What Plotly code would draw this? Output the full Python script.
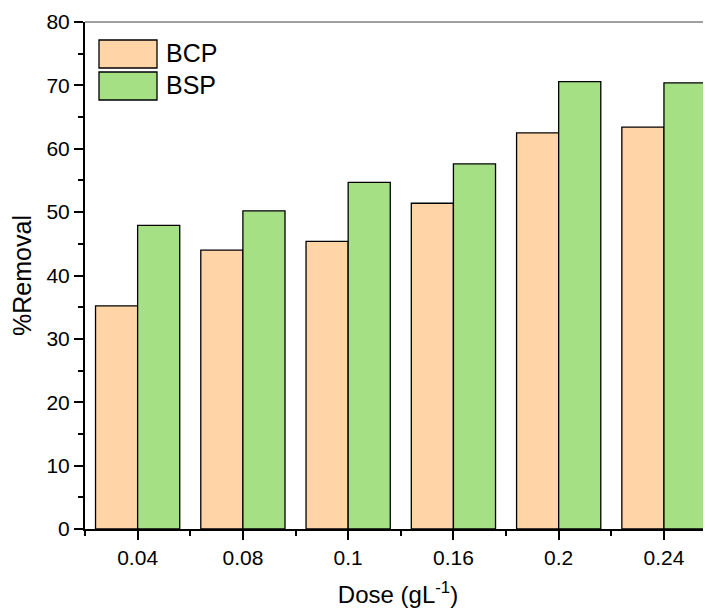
import plotly.graph_objects as go

doses = ["0.04", "0.08", "0.1", "0.16", "0.2", "0.24"]
bcp = [35.2, 44.0, 45.4, 51.4, 62.5, 63.4]
bsp = [47.9, 50.2, 54.7, 57.6, 70.6, 70.4]
series_names = ["BCP", "BSP"]
colors = ["#FFD5A8", "#A6E085"]
y_ticks = [0, 10, 20, 30, 40, 50, 60, 70, 80]

FONT = "Liberation Sans, Arial, sans-serif"
OFF = 8  # page body margin
W, H = 711 - OFF, 612 - OFF
L, T, R = 85 - OFF, 22 - OFF, 0
PH = 507
B = H - T - PH
PW = W - L - R

xs = list(range(len(doses)))

fig = go.Figure()
for name, vals, col in zip(series_names, [bcp, bsp], colors):
    fig.add_trace(go.Bar(
        x=xs, y=vals, name=name,
        marker=dict(color=col, line=dict(color="#000000", width=1.3)),
        showlegend=False,
    ))

def px(xp):
    return (xp - OFF - L) / PW

def py(yp):
    return (T + PH - (yp - OFF)) / PH

shapes = [
    dict(type="line", xref="paper", yref="paper", x0=0, x1=1, y0=1, y1=1,
         line=dict(color="#808080", width=1.5)),
]
annotations = []
legend_rows = [(40, 68), (72, 100)]
for (top, bot), name, col in zip(legend_rows, series_names, colors):
    shapes.append(dict(type="rect", xref="paper", yref="paper",
                       x0=px(99), x1=px(157), y0=py(bot), y1=py(top),
                       fillcolor=col, line=dict(color="#000000", width=1.3)))
    annotations.append(dict(xref="paper", yref="paper", x=px(164), y=py((top + bot) / 2 - 0.5),
                            text=name, showarrow=False, xanchor="left", yanchor="middle",
                            font=dict(family=FONT, size=25, color="#000000")))

fig.update_layout(
    width=W, height=H,
    margin=dict(l=L, r=R, t=T, b=B, pad=0),
    paper_bgcolor="white", plot_bgcolor="white",
    barmode="group", bargap=0.2, bargroupgap=0,
    shapes=shapes, annotations=annotations,
    font=dict(family=FONT, color="#000000"),
)
fig.update_xaxes(
    range=[-0.5, 5.447],
    tickmode="array", tickvals=xs, ticktext=doses,
    ticks="outside", ticklen=9, tickwidth=1.5, tickcolor="#000000",
    minor=dict(tickmode="array", tickvals=[i - 0.5 for i in range(len(doses) + 1)],
               ticks="outside", ticklen=5, tickwidth=1.5, tickcolor="#000000"),
    showline=True, linecolor="#000000", linewidth=2,
    showgrid=False, zeroline=False,
    tickfont=dict(family=FONT, size=21, color="#000000"),
    title=dict(text="Dose (gL<sup>-1</sup>)", font=dict(family=FONT, size=24, color="#000000"), standoff=18),
)
fig.update_yaxes(
    range=[0, 80],
    tickmode="array", tickvals=y_ticks,
    ticks="outside", ticklen=9, tickwidth=1.5, tickcolor="#000000",
    minor=dict(dtick=5, tick0=0, ticks="outside", ticklen=5, tickwidth=1.5, tickcolor="#000000", showgrid=False),
    showline=True, linecolor="#000000", linewidth=2,
    showgrid=False, zeroline=False,
    tickfont=dict(family=FONT, size=21, color="#000000"),
    title=dict(text="%Removal", font=dict(family=FONT, size=25, color="#000000"), standoff=10),
)

fig.write_html("out.html")
